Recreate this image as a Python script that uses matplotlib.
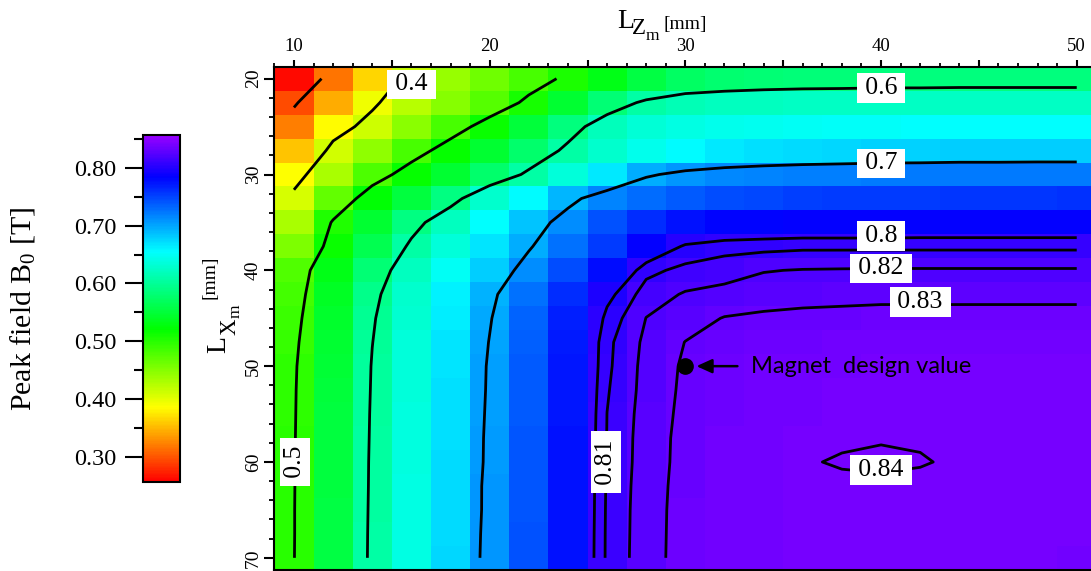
import matplotlib
matplotlib.use('Agg')
import matplotlib.pyplot as plt
from matplotlib.colors import LinearSegmentedColormap
from matplotlib.ticker import MultipleLocator, FixedLocator, FuncFormatter

plt.rcParams['font.family'] = ['Liberation Serif', 'DejaVu Serif']
plt.rcParams['mathtext.fontset'] = 'custom'
plt.rcParams['mathtext.rm'] = 'Liberation Serif'
plt.rcParams['mathtext.it'] = 'Liberation Serif:italic'

# magnet lengths [mm]: columns = L_Zm, rows = L_Xm
lz_mm = [10, 12, 14, 16, 18, 20, 22, 24, 26, 28, 30, 32, 34, 36, 38, 40, 42, 44, 46, 48, 50]
lx_mm = [20, 22.5, 25, 27.5, 30, 32.5, 35, 37.5, 40, 42.5, 45, 47.5, 50, 52.5, 55, 57.5, 60, 62.5, 65, 67.5, 70]

# peak field B0 [T], one row per L_Xm value
b0 = [
    [0.262, 0.316, 0.366, 0.415, 0.440, 0.462, 0.483, 0.507, 0.533, 0.555, 0.572, 0.578, 0.581, 0.583, 0.584, 0.585, 0.585, 0.586, 0.586, 0.586, 0.586],
    [0.295, 0.343, 0.394, 0.425, 0.450, 0.476, 0.508, 0.547, 0.582, 0.606, 0.617, 0.620, 0.622, 0.623, 0.623, 0.624, 0.624, 0.624, 0.624, 0.624, 0.624],
    [0.320, 0.385, 0.412, 0.448, 0.482, 0.516, 0.551, 0.586, 0.618, 0.632, 0.640, 0.645, 0.648, 0.650, 0.651, 0.652, 0.653, 0.653, 0.654, 0.654, 0.654],
    [0.355, 0.410, 0.444, 0.483, 0.517, 0.547, 0.577, 0.607, 0.628, 0.645, 0.657, 0.665, 0.670, 0.673, 0.675, 0.677, 0.678, 0.679, 0.679, 0.680, 0.680],
    [0.386, 0.430, 0.481, 0.518, 0.547, 0.576, 0.606, 0.636, 0.666, 0.696, 0.708, 0.714, 0.717, 0.719, 0.720, 0.721, 0.721, 0.722, 0.722, 0.722, 0.722],
    [0.408, 0.468, 0.522, 0.552, 0.588, 0.628, 0.657, 0.691, 0.717, 0.730, 0.739, 0.745, 0.749, 0.752, 0.754, 0.755, 0.756, 0.757, 0.758, 0.758, 0.759],
    [0.430, 0.504, 0.546, 0.588, 0.622, 0.653, 0.684, 0.713, 0.742, 0.763, 0.776, 0.782, 0.784, 0.785, 0.785, 0.785, 0.786, 0.786, 0.786, 0.786, 0.786],
    [0.455, 0.515, 0.562, 0.606, 0.636, 0.667, 0.697, 0.726, 0.756, 0.785, 0.802, 0.806, 0.807, 0.808, 0.808, 0.808, 0.808, 0.808, 0.808, 0.808, 0.808],
    [0.478, 0.531, 0.582, 0.620, 0.650, 0.680, 0.712, 0.745, 0.779, 0.807, 0.813, 0.816, 0.8195, 0.8205, 0.8208, 0.821, 0.821, 0.821, 0.821, 0.821, 0.821],
    [0.484, 0.538, 0.592, 0.628, 0.661, 0.693, 0.727, 0.761, 0.796, 0.815, 0.821, 0.823, 0.825, 0.826, 0.8265, 0.827, 0.827, 0.827, 0.827, 0.827, 0.827],
    [0.489, 0.543, 0.597, 0.631, 0.664, 0.698, 0.733, 0.768, 0.8036, 0.8202, 0.8257, 0.8305, 0.832, 0.833, 0.8335, 0.834, 0.834, 0.834, 0.834, 0.834, 0.834],
    [0.493, 0.547, 0.5995, 0.634, 0.667, 0.701, 0.737, 0.772, 0.8075, 0.8224, 0.8302, 0.833, 0.8345, 0.8355, 0.836, 0.8365, 0.8367, 0.8368, 0.8369, 0.837, 0.837],
    [0.496, 0.549, 0.6017, 0.636, 0.669, 0.703, 0.738, 0.773, 0.808, 0.8234, 0.8315, 0.8345, 0.836, 0.837, 0.8378, 0.8383, 0.8385, 0.8386, 0.8387, 0.8388, 0.839],
    [0.497, 0.551, 0.6025, 0.636, 0.670, 0.7035, 0.739, 0.774, 0.8091, 0.8237, 0.832, 0.835, 0.8365, 0.8375, 0.8383, 0.8387, 0.8388, 0.8388, 0.8389, 0.8389, 0.839],
    [0.4975, 0.552, 0.6034, 0.637, 0.6706, 0.7044, 0.7395, 0.7746, 0.8101, 0.8244, 0.8325, 0.8355, 0.837, 0.838, 0.8388, 0.8393, 0.8393, 0.839, 0.839, 0.839, 0.839],
    [0.498, 0.553, 0.604, 0.638, 0.6714, 0.7053, 0.7404, 0.7754, 0.8104, 0.825, 0.833, 0.836, 0.8375, 0.8385, 0.8395, 0.8398, 0.8397, 0.8393, 0.839, 0.839, 0.839],
    [0.4985, 0.5535, 0.6047, 0.6383, 0.6718, 0.7056, 0.7405, 0.7755, 0.8108, 0.8251, 0.8332, 0.8365, 0.838, 0.8397, 0.8403, 0.8405, 0.8402, 0.8396, 0.8392, 0.839, 0.839],
    [0.4987, 0.554, 0.605, 0.639, 0.6729, 0.7069, 0.7414, 0.7759, 0.8112, 0.8256, 0.8335, 0.8365, 0.838, 0.8388, 0.8393, 0.8394, 0.8393, 0.8391, 0.839, 0.8389, 0.8388],
    [0.499, 0.5545, 0.6055, 0.6393, 0.673, 0.707, 0.7414, 0.7759, 0.8115, 0.8259, 0.8337, 0.8365, 0.8378, 0.8386, 0.839, 0.8391, 0.839, 0.8389, 0.8388, 0.8387, 0.8386],
    [0.499, 0.555, 0.606, 0.640, 0.6737, 0.7079, 0.7421, 0.7763, 0.8117, 0.826, 0.8338, 0.8364, 0.8376, 0.8384, 0.8388, 0.8389, 0.8388, 0.8387, 0.8386, 0.8385, 0.8384],
    [0.4993, 0.5555, 0.6063, 0.6403, 0.6742, 0.7085, 0.7427, 0.7766, 0.8118, 0.8262, 0.8338, 0.8363, 0.8375, 0.8383, 0.8386, 0.8387, 0.8386, 0.8385, 0.8384, 0.8383, 0.8382],
]

contour_levels = [0.3, 0.4, 0.5, 0.6, 0.7, 0.8, 0.81, 0.82, 0.83, 0.84]
# where each contour value is written (L_Zm, L_Xm)
label_spots = [(16.0, 20.6), (10.05, 60.0), (40.0, 21.0), (40.0, 28.85), (40.0, 36.4),
               (25.95, 60.0), (40.0, 39.8), (42.0, 43.3), (40.0, 60.8)]
vertical_labels = ['0.5', '0.81']
design_point = (30, 50)
cbar_ticks = [0.3, 0.4, 0.5, 0.6, 0.7, 0.8]
cbar_minor = [0.35, 0.45, 0.55, 0.65, 0.75, 0.85]
b_min, b_max = 0.256, 0.857

cmap = LinearSegmentedColormap.from_list('b0', [
    (0.0, (1, 0, 0)), (0.2146, (1, 1, 0)), (0.4393, (0, 1, 0)),
    (0.6639, (0, 1, 1)), (0.8802, (0, 0, 1)), (1.0, (0.6, 0, 1))])

W, H = 1091, 571
fig = plt.figure(figsize=(W / 100, H / 100), dpi=100)
ax = fig.add_axes([274.4 / W, 1 - 569.8 / H, (1096.3 - 274.4) / W, (569.8 - 66.7) / H])
cax = fig.add_axes([143 / W, 1 - 482 / H, 37 / W, 347 / H])

mesh = ax.pcolormesh(lz_mm, lx_mm, b0, shading='nearest', cmap=cmap, vmin=b_min, vmax=b_max)
cs = ax.contour(lz_mm, lx_mm, b0, levels=contour_levels, colors='black', linewidths=2.0)
gap = '\u2006'  # six-per-em space, gives the wide white label boxes
texts = ax.clabel(cs, fmt=lambda v: f'{gap}{v:g}{gap}', manual=label_spots, inline=False, fontsize=18.5)
for t, spot in zip(texts, label_spots):
    t.set_position(spot)
    t.set_rotation(90 if t.get_text().strip(gap) in vertical_labels else 0)
    t.set_bbox(dict(boxstyle='square,pad=0.15', facecolor='white', edgecolor='none'))

ax.plot(*design_point, 'o', color='black', markersize=11, zorder=5)
ax.annotate('Magnet  design value', xy=design_point, xytext=(47, 0), textcoords='offset points',
            ha='left', va='center', fontsize=17, family=['Lato', 'DejaVu Sans'],
            arrowprops=dict(arrowstyle='-|>,head_length=0.55,head_width=0.25', color='black',
                            lw=1.8, shrinkA=7.5, shrinkB=8))

ax.set_xlim(9, 51)
ax.set_ylim(71.25, 18.75)
ax.xaxis.tick_top()
ax.xaxis.set_major_locator(MultipleLocator(5))
ax.xaxis.set_minor_locator(MultipleLocator(1))
ax.xaxis.set_major_formatter(FuncFormatter(lambda v, p: f'{v:.0f}' if round(v) % 10 == 0 else ''))
ax.tick_params(axis='x', which='major', length=5, width=1.5, pad=3.5, labelsize=13.5)
ax.tick_params(axis='x', which='minor', length=2.7, width=1.3)
ax.set_yticks([20, 30, 40, 50, 60, 70])
ax.set_yticklabels(['20', '30', '40', '50', '60', '70'], rotation=90, va='center')
ax.yaxis.set_minor_locator(MultipleLocator(2))
ax.tick_params(axis='y', which='major', length=7, width=1.5, pad=2, labelsize=14)
ax.tick_params(axis='y', which='minor', length=3.6, width=1.3)
for s in ['top', 'left', 'bottom']:
    ax.spines[s].set_linewidth(1.5)
ax.spines['right'].set_visible(False)

# axis titles with large subscripts, built piece by piece
def fig_txt(x, y, s, size, **kw):
    fig.text(x / W, 1 - y / H, s, fontsize=size, ha='left', va='baseline', **kw)

fig_txt(617, 28.5, 'L', 20)
fig_txt(632, 33.5, 'Z', 16.5)
fig_txt(645.5, 40, 'm', 12.5)
fig_txt(663.5, 28.5, '[mm]', 14)

rot = dict(rotation=90, rotation_mode='anchor')
fig_txt(225, 353, 'L', 20, **rot)
fig_txt(235, 335, 'X', 16.5, **rot)
fig_txt(240, 318, 'm', 12.5, **rot)
fig_txt(215, 299, '[mm]', 14, **rot)

cb = fig.colorbar(mesh, cax=cax, ticks=cbar_ticks, format='%.2f')
cax.yaxis.set_ticks_position('left')
cax.yaxis.set_label_position('left')
cax.yaxis.set_minor_locator(FixedLocator(cbar_minor))
cax.tick_params(which='major', length=13, width=1.5, pad=6, labelsize=17.5)
cax.tick_params(which='minor', length=6.5, width=1.5)
cb.outline.set_linewidth(1.5)
cb.set_label(r'Peak field B$_\mathregular{0}$ [T]', fontsize=21.5)
cax.yaxis.set_label_coords((37 - 143) / 37, 0.5)

plt.savefig('out.png', dpi=100)
